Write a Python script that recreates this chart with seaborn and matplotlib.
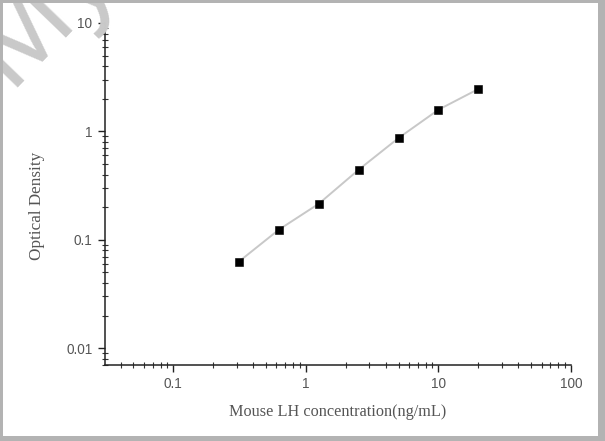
import matplotlib
matplotlib.use("Agg")
import matplotlib.pyplot as plt
import matplotlib.ticker as mticker
from matplotlib.patches import Rectangle
import seaborn as sns
import pandas as pd

concentration = [0.3125, 0.625, 1.25, 2.5, 5, 10, 20]
optical_density = [0.063, 0.124, 0.215, 0.443, 0.869, 1.585, 2.46]
x_tick_values = [0.1, 1, 10, 100]
x_tick_labels = ["0.1", "1", "10", "100"]
y_tick_values = [0.01, 0.1, 1, 10]
y_tick_labels = ["0.01", "0.1", "1", "10"]

df = pd.DataFrame({"conc": concentration, "od": optical_density})

sns.set_theme(style="white")
plt.rcParams["font.family"] = ["Liberation Sans", "DejaVu Sans"]

W, H = 605, 441
fig = plt.figure(figsize=(W / 100, H / 100), dpi=100)
fig.patch.set_facecolor("white")
ax = fig.add_axes([105 / W, 1 - 365 / H, (571 - 105) / W, (365 - 23) / H])
ax.patch.set_alpha(0)

# watermark (partly outside the image, as in the reference)
fig.text(8 / W, 1 - 88 / H, "My", fontsize=85, color="#c9c9c9", rotation=46,
         rotation_mode="anchor", ha="left", va="baseline",
         family="Liberation Sans", zorder=0)

sns.lineplot(data=df, x="conc", y="od", ax=ax, color="#c8c8c8", linewidth=1.4,
             zorder=2)
sns.scatterplot(data=df, x="conc", y="od", ax=ax, marker="s", s=26,
                color="black", edgecolor="black", zorder=3)

ax.set_xscale("log")
ax.set_yscale("log")
ax.set_xlim(0.0305, 100)
ax.set_ylim(0.007, 10)

ax.xaxis.set_major_locator(mticker.FixedLocator(x_tick_values))
ax.xaxis.set_major_formatter(mticker.FixedFormatter(x_tick_labels))
ax.yaxis.set_major_locator(mticker.FixedLocator(y_tick_values))
ax.yaxis.set_major_formatter(mticker.FixedFormatter(y_tick_labels))
ax.xaxis.set_minor_locator(mticker.LogLocator(base=10, subs=range(2, 10), numticks=20))
ax.yaxis.set_minor_locator(mticker.LogLocator(base=10, subs=range(2, 10), numticks=20))
ax.xaxis.set_minor_formatter(mticker.NullFormatter())
ax.yaxis.set_minor_formatter(mticker.NullFormatter())

for s in ["top", "right"]:
    ax.spines[s].set_visible(False)
for s in ["left", "bottom"]:
    ax.spines[s].set_color("#222222")
    ax.spines[s].set_linewidth(1.1)

ax.tick_params(axis="both", which="major", direction="out", length=5, width=1,
               color="#222222", labelsize=9.8, labelcolor="#555555", pad=4,
               bottom=True, left=True)
ax.tick_params(axis="both", which="minor", direction="inout", length=4, width=0.8,
               color="#333333", bottom=True, left=True)

ax.set_xlabel("Mouse LH concentration(ng/mL)", fontsize=11.7, color="#555555",
              family="Liberation Serif", labelpad=9)
ax.set_ylabel("Optical Density", fontsize=12.3, color="#555555",
              family="Liberation Serif")
ax.yaxis.set_label_coords(-0.128, 0.465)
ax.grid(False)

# gray frame around the image (top, left, right, bottom thicknesses in px)
frame_color = "#b3b3b3"
for (x0, y0, w, h) in [(0, H - 3, W, 3), (0, 0, 3, H), (W - 7, 0, 7, H), (0, 0, W, 5)]:
    fig.patches.append(Rectangle((x0 / W, y0 / H), w / W, h / H,
                                 transform=fig.transFigure, facecolor=frame_color,
                                 edgecolor="none", zorder=10))

fig.savefig("out.png", dpi=100)
